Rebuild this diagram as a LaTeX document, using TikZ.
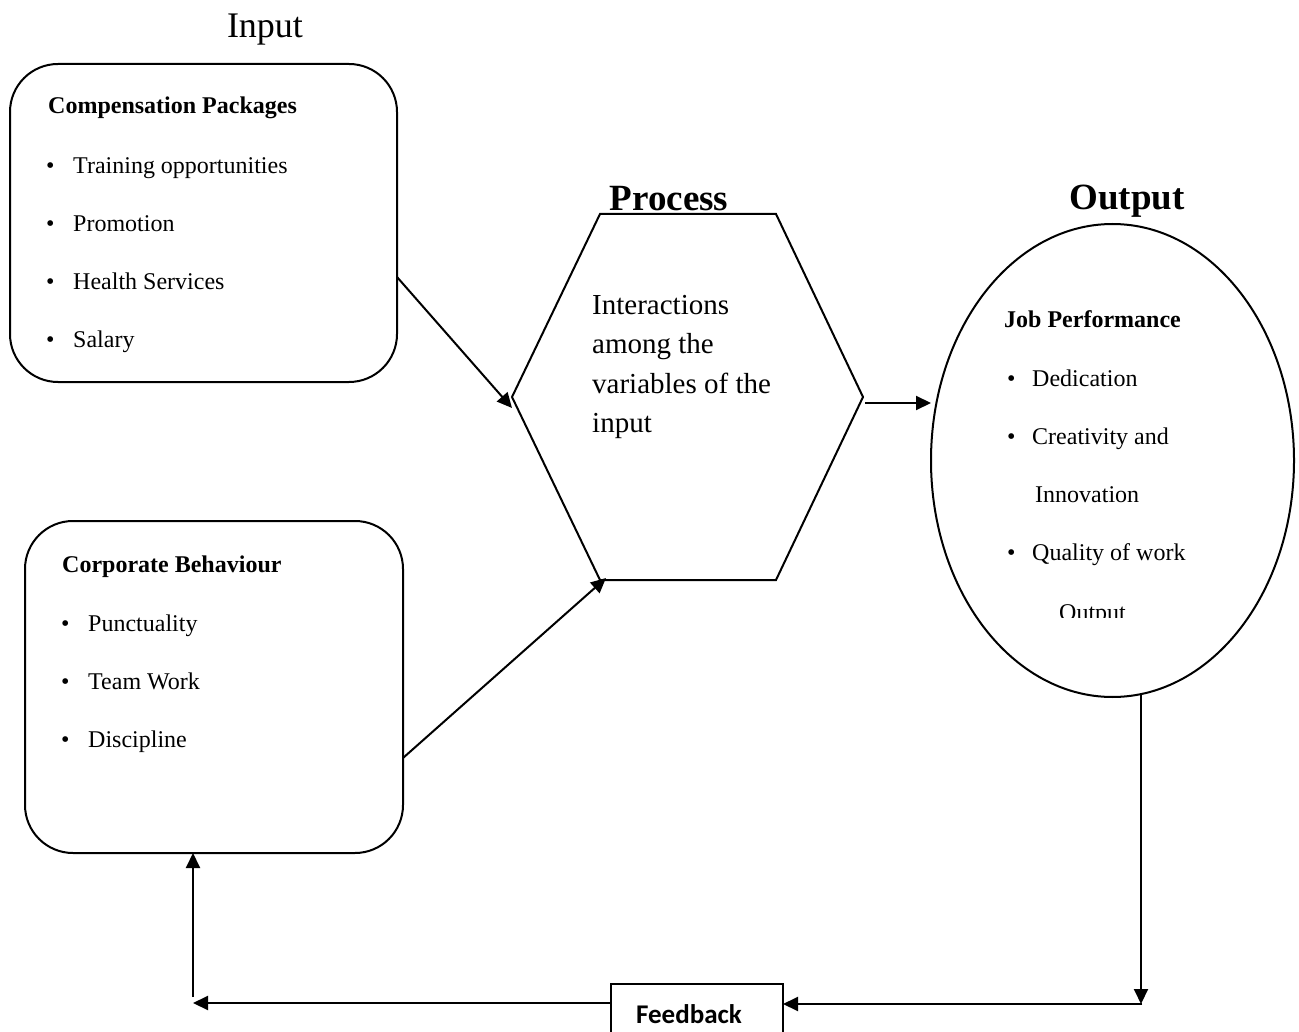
\documentclass[tikz,border=0pt]{standalone}
\usepackage{fontspec}
\setmainfont{Liberation Serif}
\newfontfamily\fbfont{Carlito}
\usetikzlibrary{arrows.meta,shapes.geometric}
\tikzset{
  outline/.style={draw=black, line width=2pt},
  rbox/.style={outline, rounded corners=48pt, inner sep=0pt, outer sep=0pt},
  arr/.style={line width=2pt, -{Triangle[length=15pt,width=14pt]}},
  txt/.style={inner sep=0pt, anchor=base west, font=\fontsize{24}{28}\selectfont},
  hdr/.style={inner sep=0pt, anchor=base west, font=\fontsize{24}{28}\selectfont\bfseries},
  ptxt/.style={inner sep=0pt, anchor=base west, font=\fontsize{29}{34}\selectfont},
  ttl/.style={inner sep=0pt, anchor=base, font=\fontsize{37}{42}\selectfont\bfseries},
}
\begin{document}
\begin{tikzpicture}[x=1pt,y=-1pt]
\useasboundingbox[fill=white] (0,0) rectangle (1299,1032);

% titles
\node[inner sep=0pt, anchor=base, font=\fontsize{36}{40}\selectfont] (tin) at (265,38) {Input};
\node[ttl] (tproc) at (669,211) {Process};
\node[ttl] (tout) at (1127,210) {Output};

% box 1
\node[rbox, minimum width=387pt, minimum height=318pt] (cp) at (203.5,223) {};
\node[hdr] (cph) at (48,114) {Compensation Packages};
\node[txt] (cpb1) at (46,174) {\textbullet};
\node[txt] (cpt1) at (73,174) {Training opportunities};
\node[txt] (cpb2) at (46,232) {\textbullet};
\node[txt] (cpt2) at (73,232) {Promotion};
\node[txt] (cpb3) at (46,290) {\textbullet};
\node[txt] (cpt3) at (73,290) {Health Services};
\node[txt] (cpb4) at (46,348) {\textbullet};
\node[txt] (cpt4) at (73,348) {Salary};

% box 2
\node[rbox, minimum width=378pt, minimum height=332pt] (cb) at (214,687) {};
\node[hdr] (cbh) at (62,572) {Corporate Behaviour};
\node[txt] (cbb1) at (61,631) {\textbullet};
\node[txt] (cbt1) at (88,631) {Punctuality};
\node[txt] (cbb2) at (61,689) {\textbullet};
\node[txt] (cbt2) at (88,689) {Team Work};
\node[txt] (cbb3) at (61,747) {\textbullet};
\node[txt] (cbt3) at (88,747) {Discipline};

% process hexagon
\coordinate (hl) at (512,397);
\coordinate (htl) at (600,214);
\coordinate (htr) at (776,214);
\coordinate (hr) at (863,397);
\coordinate (hbr) at (776,580);
\coordinate (hbl) at (600,580);
\draw[outline] (hl) -- (htl) -- (htr) -- (hr) -- (hbr) -- (hbl) -- cycle;
\node[ptxt] (p1) at (592,315) {Interactions};
\node[ptxt] (p2) at (592,354) {among the};
\node[ptxt] (p3) at (592,393) {variables of the};
\node[ptxt] (p4) at (592,432) {input};

% output ellipse
\node[outline, ellipse, minimum width=363pt, minimum height=473pt, inner sep=0pt, outer sep=0pt] (out) at (1112.5,460.5) {};
\node[hdr] (oh) at (1004,328) {Job Performance};
\node[txt] (ob1) at (1007,386) {\textbullet};
\node[txt] (ot1) at (1032,386) {Dedication};
\node[txt] (ob2) at (1007,444) {\textbullet};
\node[txt] (ot2) at (1032,444) {Creativity and};
\node[txt] (ot2b) at (1035,502) {Innovation};
\node[txt] (ob3) at (1007,560) {\textbullet};
\node[txt] (ot3) at (1032,560) {Quality of work};
\begin{scope}
\clip (1000,580) rectangle (1200,617);
\node[txt] (ot3b) at (1059,620) {Output};
\end{scope}

% feedback box
\node[outline, minimum width=172pt, minimum height=60pt, inner sep=0pt, outer sep=0pt] (fb) at (697,1014) {};
\node[inner sep=0pt, anchor=base, font=\fontsize{27}{30}\fbfont\bfseries] (fbt) at (689,1023) {Feedback};

% connectors
\coordinate (a1e) at (512,408);
\draw[arr] ([yshift=-54pt]cp.east) -- (a1e);
\coordinate (a2e) at (606,578);
\draw[arr] ([yshift=-71pt]cb.east) -- (a2e);
\coordinate (a3s) at (865,403);
\draw[arr] (a3s) -- (a3s -| out.west);
\coordinate (cr) at (1141,1004);
\draw[arr] (cr |- 0,695) -- (cr);
\draw[arr] ([xshift=1pt]cr) -- (cr -| fb.east);
\coordinate (cl) at (193,1003);
\draw[arr] (fb.west |- cl) -- (cl);
\coordinate (vb) at (193,997);
\draw[arr] (vb) -- (vb |- cb.south);
\end{tikzpicture}
\end{document}
